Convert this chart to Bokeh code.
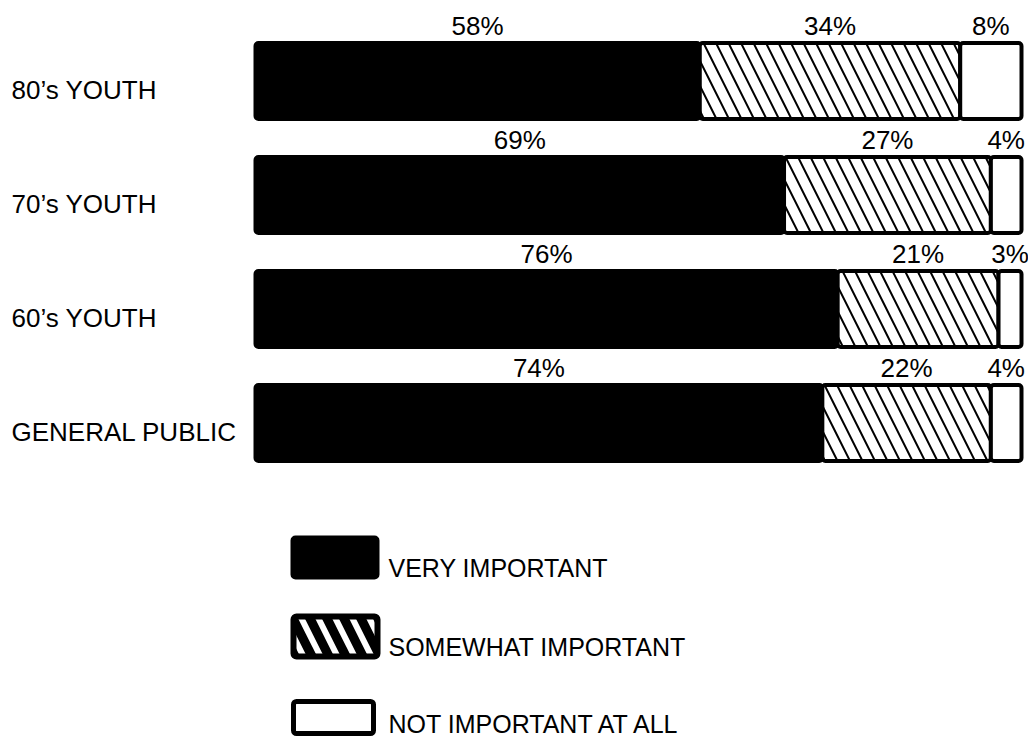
from bokeh.plotting import figure
from bokeh.models import Range1d
from bokeh.core.properties import value
from bokeh.embed import file_html
from bokeh.resources import INLINE

# ---- data ----
groups = ["80’s YOUTH", "70’s YOUTH", "60’s YOUTH", "GENERAL PUBLIC"]
very_important = [58, 69, 76, 74]
somewhat_important = [34, 27, 21, 22]
not_important = [8, 4, 3, 4]
series_names = ["VERY IMPORTANT", "SOMEWHAT IMPORTANT", "NOT IMPORTANT AT ALL"]

W, H = 1028, 737
X0 = 255.0          # pixel of 0%
PX_PER_PCT = 7.66   # pixels per percent
Y0 = 80.5           # pixel of first row centre
ROW = 114.0         # pixels per row
TXT_SHIFT = 10.0    # baseline correction (px)

def xd(px):
    return (px - X0) / PX_PER_PCT

def yd(py):
    return (py - Y0) / ROW

FONT = value("Liberation Sans")

p = figure(width=W, height=H, output_backend="svg", toolbar_location=None,
           x_range=Range1d(xd(0), xd(W)), y_range=Range1d(yd(H), yd(0)),
           min_border=0, min_border_left=0, min_border_right=0,
           min_border_top=0, min_border_bottom=0)
p.axis.visible = False
p.grid.visible = False
p.outline_line_color = None
p.background_fill_color = "white"
p.border_fill_color = "white"

rows = list(range(len(groups)))
bar_h = 76.0 / ROW

left1 = [0] * len(rows)
right1 = very_important
left2 = right1
right2 = [a + b for a, b in zip(very_important, somewhat_important)]
left3 = right2
right3 = [a + b for a, b in zip(right2, not_important)]

common = dict(line_color="black", line_width=4, border_radius=3)

p.hbar(y=rows, left=left1, right=right1, height=bar_h, fill_color="black", **common)
p.hbar(y=rows, left=left2, right=right2, height=bar_h, fill_color="white",
       hatch_pattern="\\", hatch_color="black", hatch_scale=25, hatch_weight=2,
       **common)
p.hbar(y=rows, left=left3, right=right3, height=bar_h, fill_color="white", **common)

# category labels
p.text(x=[xd(11)] * len(rows), y=[r + (19.0 - TXT_SHIFT) / ROW for r in rows], text=groups,
       text_font=FONT, text_font_size="26px", text_color="black",
       text_align="left", text_baseline="alphabetic")

# percent labels
lab_x, lab_y, lab_t = [], [], []
for i in rows:
    segs = [(left1[i], right1[i], very_important[i]),
            (left2[i], right2[i], somewhat_important[i]),
            (left3[i], right3[i], not_important[i])]
    for l, r, v in segs:
        lab_x.append((l + r) / 2.0)
        lab_y.append(i - (45.0 + TXT_SHIFT) / ROW)
        lab_t.append(f"{v}%")
p.text(x=lab_x, y=lab_y, text=lab_t, text_font=FONT, text_font_size="26px",
       text_color="black", text_align="center", text_baseline="alphabetic")

# legend (drawn as glyphs)
leg_top = [537, 616, 701]
leg_bot = [577, 656, 733]
leg_l = [292, 293, 293]
leg_r = [377, 377, 373]
p.quad(left=[xd(leg_l[0])], right=[xd(leg_r[0])], top=[yd(leg_top[0])], bottom=[yd(leg_bot[0])],
       fill_color="black", line_color="black", line_width=4, border_radius=3)
p.quad(left=[xd(leg_l[1])], right=[xd(leg_r[1])], top=[yd(leg_top[1])], bottom=[yd(leg_bot[1])],
       fill_color="black", hatch_pattern="\\", hatch_color="white", hatch_scale=34,
       hatch_weight=6, line_color="black", line_width=6, border_radius=3)
p.quad(left=[xd(leg_l[2])], right=[xd(leg_r[2])], top=[yd(leg_top[2])], bottom=[yd(leg_bot[2])],
       fill_color="white", line_color="black", line_width=5, border_radius=3)
p.text(x=[xd(388)] * 3, y=[yd(b - TXT_SHIFT) for b in leg_bot], text=series_names,
       text_font=FONT, text_font_size="25px", text_color="black",
       text_align="left", text_baseline="alphabetic")

open("out.html", "w").write(file_html(p, INLINE))
